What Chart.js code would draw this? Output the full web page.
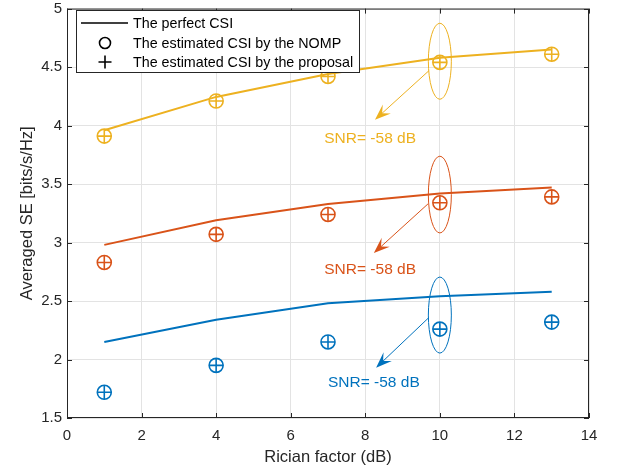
<!DOCTYPE html>
<html>
<head>
<meta charset="utf-8">
<script src="https://cdn.jsdelivr.net/npm/chart.js@4/dist/chart.umd.min.js"></script>
<style>
  html, body { margin: 0; padding: 0; background: #fff; }
  #wrap { width: 618px; height: 474px; }
</style>
</head>
<body>
<div id="wrap"><canvas id="seChart" width="618" height="474"></canvas></div>
<script>
// Rician factor values (dB)
const ricianK = [1, 4, 7, 10, 13];

// Averaged SE, perfect CSI
const perfectHigh = [3.96, 4.245, 4.44, 4.58, 4.65];
const perfectMid = [2.98, 3.19, 3.33, 3.42, 3.47];
const perfectLow = [2.15, 2.34, 2.48, 2.54, 2.58];

// Averaged SE, estimated CSI (NOMP and proposal give the same values)
const nompHigh = [3.91, 4.21, 4.42, 4.54, 4.61];
const nompMid = [2.83, 3.07, 3.24, 3.34, 3.39];
const nompLow = [1.72, 1.95, 2.15, 2.26, 2.32];
const propHigh = [3.91, 4.21, 4.42, 4.54, 4.61];
const propMid = [2.83, 3.07, 3.24, 3.34, 3.39];
const propLow = [1.72, 1.95, 2.15, 2.26, 2.32];

const xTicks = [0, 2, 4, 6, 8, 10, 12, 14];
const yTicks = [1.5, 2, 2.5, 3, 3.5, 4, 4.5, 5];

const legendLabels = ["The perfect CSI", "The estimated CSI by the NOMP", "The estimated CSI by the proposal"];
const snrLabel = "SNR= -58 dB";

const BLUE = "#0072BD", RED = "#D95319", YEL = "#EDB120";
const FONT = "'Liberation Sans', Arial, Helvetica, sans-serif";

function pts(ys) {
  return ricianK.map((k, i) => ({ x: k, y: ys[i] }));
}

function lineSet(ys, color) {
  return { data: pts(ys), borderColor: color, borderWidth: 2, pointRadius: 0, showLine: true, fill: false, order: 2 };
}

function markSet(ys, color, style) {
  return {
    data: pts(ys), showLine: false, pointStyle: style, pointRadius: 7, pointHoverRadius: 7,
    borderColor: color, backgroundColor: "transparent", pointBorderWidth: 1.6, order: 1
  };
}

// ellipse + arrow callouts around K = 10
const callouts = [
  { color: YEL, cy: 4.55, ry: 0.325, from: [9.71, 4.47], to: [8.26, 4.05], text: [6.9, 3.89] },
  { color: RED, cy: 3.41, ry: 0.328, from: [9.68, 3.33], to: [8.23, 2.91], text: [6.9, 2.77] },
  { color: BLUE, cy: 2.38, ry: 0.325, from: [9.71, 2.36], to: [8.29, 1.93], text: [7.0, 1.80] }
];

function arrow(ctx, x1, y1, x2, y2, color) {
  const ang = Math.atan2(y2 - y1, x2 - x1);
  const len = 16, half = 6;
  ctx.strokeStyle = color;
  ctx.fillStyle = color;
  ctx.lineWidth = 1;
  ctx.beginPath();
  ctx.moveTo(x1, y1);
  ctx.lineTo(x2 - Math.cos(ang) * 8, y2 - Math.sin(ang) * 8);
  ctx.stroke();
  // swept head
  const bx = x2 - Math.cos(ang) * len, by = y2 - Math.sin(ang) * len;
  const nx = -Math.sin(ang), ny = Math.cos(ang);
  const mx = x2 - Math.cos(ang) * len * 0.6, my = y2 - Math.sin(ang) * len * 0.6;
  ctx.beginPath();
  ctx.moveTo(x2, y2);
  ctx.lineTo(bx + nx * half, by + ny * half);
  ctx.lineTo(mx, my);
  ctx.lineTo(bx - nx * half, by - ny * half);
  ctx.closePath();
  ctx.fill();
}

const decorPlugin = {
  id: "decor",
  afterDatasetsDraw(chart) {
    const { ctx, chartArea: a, scales: { x, y } } = chart;
    ctx.save();

    // callouts
    callouts.forEach(c => {
      const cx = x.getPixelForValue(10);
      const cy = y.getPixelForValue(c.cy);
      const ry = Math.abs(y.getPixelForValue(c.cy + c.ry) - cy);
      ctx.strokeStyle = c.color;
      ctx.lineWidth = 1;
      ctx.beginPath();
      ctx.ellipse(cx, cy, 11.5, ry, 0, 0, Math.PI * 2);
      ctx.stroke();
      arrow(ctx, x.getPixelForValue(c.from[0]), y.getPixelForValue(c.from[1]),
        x.getPixelForValue(c.to[0]), y.getPixelForValue(c.to[1]), c.color);
      ctx.fillStyle = c.color;
      ctx.font = "15.5px " + FONT;
      ctx.textAlign = "left";
      ctx.textBaseline = "middle";
      ctx.fillText(snrLabel, x.getPixelForValue(c.text[0]), y.getPixelForValue(c.text[1]));
    });

    // box with inward ticks
    ctx.strokeStyle = "#262626";
    ctx.lineWidth = 1;
    ctx.strokeRect(a.left + 0.5, a.top + 0.5, a.right - a.left - 1, a.bottom - a.top - 1);
    ctx.beginPath();
    xTicks.forEach(v => {
      const px = Math.round(x.getPixelForValue(v)) + 0.5;
      ctx.moveTo(px, a.bottom); ctx.lineTo(px, a.bottom - 5);
      ctx.moveTo(px, a.top); ctx.lineTo(px, a.top + 5);
    });
    yTicks.forEach(v => {
      const py = Math.round(y.getPixelForValue(v)) + 0.5;
      ctx.moveTo(a.left, py); ctx.lineTo(a.left + 5, py);
      ctx.moveTo(a.right, py); ctx.lineTo(a.right - 5, py);
    });
    ctx.stroke();

    // legend box
    const lx = 76, ly = 10, lw = 283, lh = 62;
    ctx.fillStyle = "#fff";
    ctx.fillRect(lx, ly, lw, lh);
    ctx.strokeStyle = "#262626";
    ctx.strokeRect(lx + 0.5, ly + 0.5, lw, lh);
    const rows = [23, 43, 62];
    ctx.strokeStyle = "#000";
    ctx.lineWidth = 1.6;
    ctx.beginPath();
    ctx.moveTo(81, rows[0]); ctx.lineTo(128, rows[0]);
    ctx.stroke();
    ctx.beginPath();
    ctx.arc(105, rows[1], 5.5, 0, Math.PI * 2);
    ctx.stroke();
    ctx.beginPath();
    ctx.moveTo(98.5, rows[2]); ctx.lineTo(111.5, rows[2]);
    ctx.moveTo(105, rows[2] - 6.5); ctx.lineTo(105, rows[2] + 6.5);
    ctx.stroke();
    ctx.fillStyle = "#000";
    ctx.font = "14.3px " + FONT;
    ctx.textAlign = "left";
    ctx.textBaseline = "middle";
    legendLabels.forEach((t, i) => ctx.fillText(t, 133, rows[i] + 1));

    ctx.restore();
  }
};

new Chart(document.getElementById("seChart"), {
  type: "scatter",
  data: {
    datasets: [
      lineSet(perfectHigh, YEL), lineSet(perfectMid, RED), lineSet(perfectLow, BLUE),
      markSet(nompHigh, YEL, "circle"), markSet(nompMid, RED, "circle"), markSet(nompLow, BLUE, "circle"),
      markSet(propHigh, YEL, "cross"), markSet(propMid, RED, "cross"), markSet(propLow, BLUE, "cross")
    ]
  },
  options: {
    responsive: false,
    animation: false,
    layout: { padding: { top: 7, right: 29, left: 0, bottom: 0 } },
    plugins: { legend: { display: false }, tooltip: { enabled: false } },
    scales: {
      x: {
        type: "linear", min: 0, max: 14,
        afterBuildTicks: s => { s.ticks = xTicks.map(v => ({ value: v })); },
        afterFit: s => { s.height = 56; s.paddingLeft = 0; s.paddingRight = 0; },
        grid: { color: "#e3e3e3", drawTicks: false },
        border: { display: false },
        ticks: { color: "#262626", padding: 9, font: { size: 15, family: FONT }, maxRotation: 0 },
        title: { display: true, text: "Rician factor (dB)", color: "#262626", font: { size: 16.5, family: FONT }, padding: { top: 0, bottom: 7 } }
      },
      y: {
        type: "linear", min: 1.5, max: 5,
        afterBuildTicks: s => { s.ticks = yTicks.map(v => ({ value: v })); },
        afterFit: s => { s.width = 67; s.paddingTop = 0; s.paddingBottom = 0; },
        grid: { color: "#e3e3e3", drawTicks: false },
        border: { display: false },
        ticks: { color: "#262626", padding: 5, font: { size: 15, family: FONT }, callback: v => String(v) },
        title: { display: true, text: "Averaged SE [bits/s/Hz]", color: "#262626", font: { size: 16.5, family: FONT }, padding: { top: 18, bottom: 0 } }
      }
    }
  },
  plugins: [decorPlugin]
});
</script>
</body>
</html>
